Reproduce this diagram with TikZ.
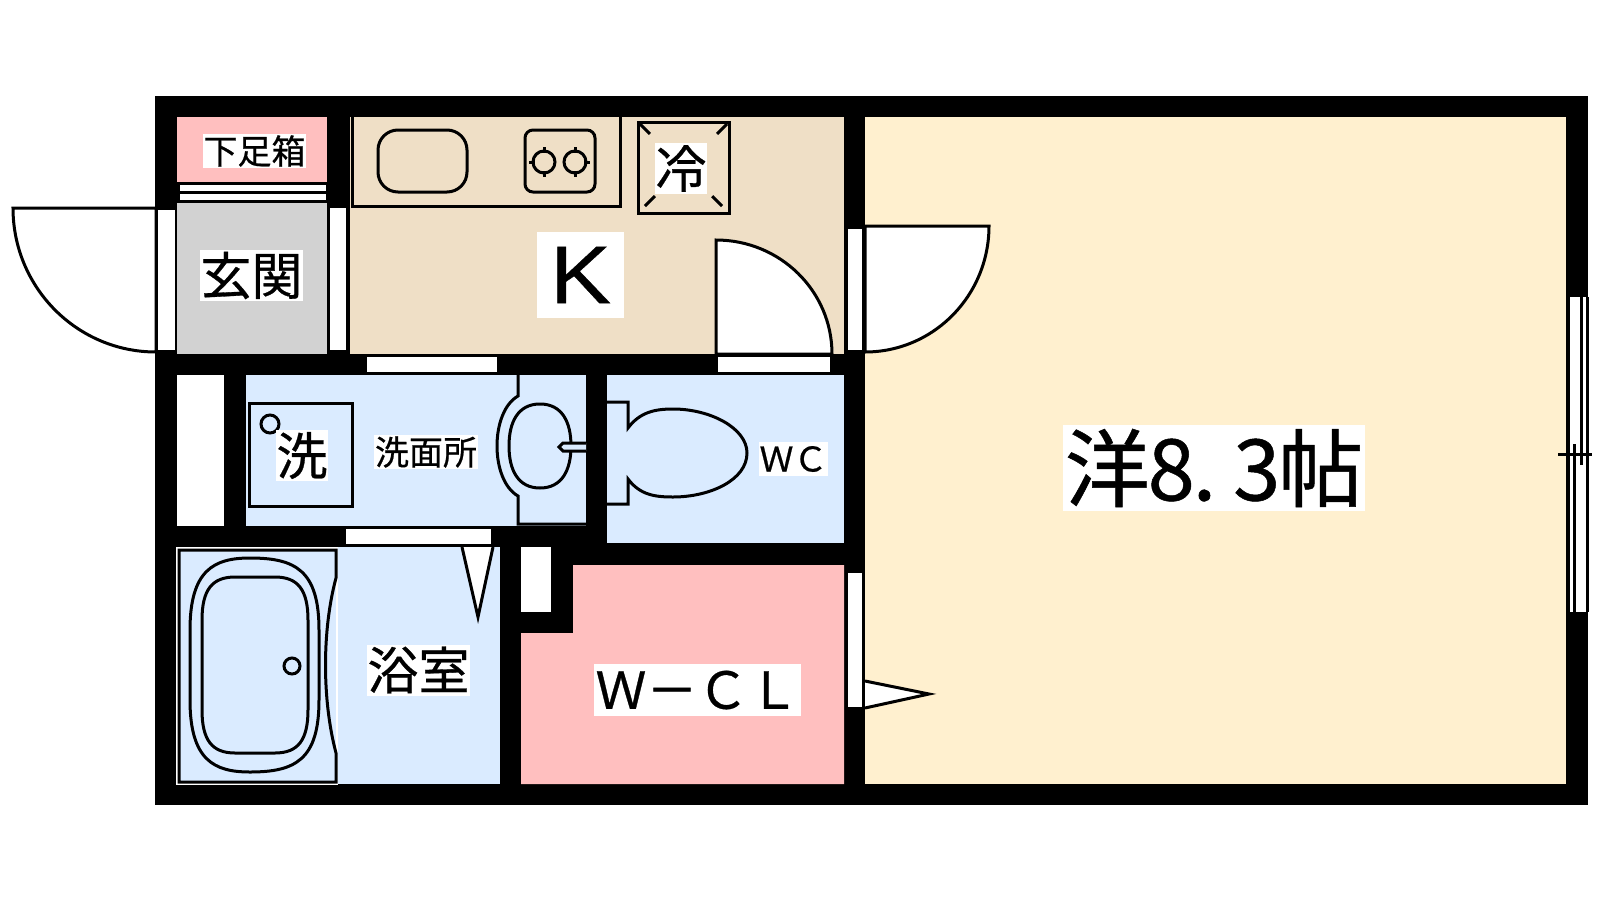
\documentclass[tikz,border=0pt]{standalone}
\usepackage{fontspec}
\newfontfamily\cjk[FakeBold=0.6]{Noto Sans CJK JP}
\newfontfamily\wideface[FakeStretch=1.12,FakeBold=0.4]{Liberation Sans}
\definecolor{shoebox}{HTML}{FFBFBF}
\definecolor{entry}{HTML}{D2D2D2}
\definecolor{kitchen}{HTML}{EFDFC6}
\definecolor{western}{HTML}{FFF0CF}
\definecolor{wet}{HTML}{DAEBFF}
\newcommand{\halfcell}[1]{\makebox[21.4pt]{#1}}
\begin{document}
\begin{tikzpicture}[x=0.5pt,y=-0.5pt,
    wall/.style ={fill=black},
    opening/.style ={draw=black, fill=white, line width=1pt},
    fixture/.style ={draw=black, line width=1.5pt},
    leaf/.style ={draw=black, fill=white, line width=1.5pt},
    bigtext/.style ={fill=white, inner sep=0pt, font=\cjk\fontsize{25.5}{26}\selectfont},
    smalltext/.style ={fill=white, inner sep=0pt, font=\cjk\fontsize{17}{18}\selectfont}]
   \useasboundingbox (0,0) rectangle (1600,900);
   \fill[wall] (155,96) rectangle (1588,805);

   % rooms
   \fill[white] (177,375) rectangle (224,526);
   \fill[white] (521,547) rectangle (551,612);
   \fill[white] (180,185) rectangle (326,191);
   \fill[white] (180,194) rectangle (326,200);
   \fill[shoebox] (177,117) rectangle (327,182);
   \fill[entry] (177,203) rectangle (327,354);
   \fill[kitchen] (350,117) rectangle (844,354);
   \fill[western] (865,117) rectangle (1566,784);
   \fill[wet] (246,375) rectangle (586,526);
   \fill[wet] (607,375) rectangle (844,543);
   \fill[wet] (177,547) rectangle (500,784);
   \fill[shoebox] (573,565) -- (844,565) -- (844,784) -- (521,784) -- (521,633) -- (573,633) -- cycle;

   % kitchen
   \draw[fixture] (352,117) -- (352,206) -- (620,206) -- (620,117);
   \draw[fixture, rounded corners=10] (378,130) rectangle (467,192);
   \draw[fixture, rounded corners=4] (525,130) rectangle (595,192);
   \draw[fixture] (529,162) -- (559,162) (544,147) -- (544,177);
   \draw[fixture] (560,162) -- (590,162) (575,147) -- (575,177);
   \fill[kitchen] (535,153) rectangle (584,171);
   \draw[fixture] (544,162) circle (11);
   \draw[fixture] (575,162) circle (11);
   \draw[fixture] (638,122) rectangle (729,213);
   \draw[fixture, dash pattern=on 7 off 10] (640,124) -- (727,211);
   \draw[fixture, dash pattern=on 7 off 10] (727,124) -- (640,211);

   % doors and openings
   \draw[opening] (157,209) rectangle (176,351);
   \draw[opening] (329,207) rectangle (347,351);
   \draw[opening] (366,356) rectangle (498,373);
   \draw[opening] (717,356) rectangle (831,373);
   \draw[opening] (345,528) rectangle (492,545);
   \draw[opening] (847,228) rectangle (863,351);
   \draw[opening] (847,572) rectangle (863,708);
   \draw[leaf] (156,208) -- (13,208) arc[start angle=180, end angle=90, x radius=143, y radius=144] -- cycle;
   \draw[leaf] (716,354) -- (716,240) arc[start angle=-90, end angle=0, x radius=116, y radius=114] -- cycle;
   \draw[leaf] (865,226) -- (989,226) arc[start angle=0, end angle=90, x radius=124, y radius=126] -- cycle;
   \draw[leaf] (462,547) -- (478,617) -- (493,547);
   \draw[leaf] (865,681) -- (929,694) -- (865,708);

   % window
   \fill[white] (1567,297) rectangle (1588,612);
   \draw[fixture] (1568,297) -- (1568,612);
   \draw[fixture] (1587,297) -- (1587,612);
   \draw[fixture] (1581,297) -- (1581,465);
   \draw[fixture] (1574,444) -- (1574,612);
   \draw[fixture] (1558,454) -- (1592,454);

   % washroom
   \draw[fixture] (249,403) rectangle (352,506);
   \draw[fixture] (270,424) circle (9);
   \draw[fixture] (518,375) -- (518,396) .. controls (490,412) and (490,480) .. (518,496) -- (518,524) -- (586,524);
   \draw[fixture] (540,404) .. controls (518,404) and (509,422) .. (509,446) .. controls (509,470) and (518,488) .. (540,488) .. controls (562,488) and (571,470) .. (571,446) .. controls (571,422) and (562,404) .. (540,404);
   \draw[fixture, fill=wet] (586,443) -- (563,443) -- (559,447) -- (563,451) -- (586,451);

   % toilet
   \draw[fixture] (607,402) -- (628,402) -- (628,428) .. controls (640,412) and (655,409) .. (673,409) .. controls (710,409) and (747,428) .. (747,453) .. controls (747,480) and (710,497) .. (673,497) .. controls (655,497) and (640,495) .. (628,479) -- (628,504) -- (607,504);

   % bath
   \draw[white, line width=1pt] (177,547.5) rectangle (337,783.5);
   \draw[fixture] (179,550) -- (336,550) -- (336,578) .. controls (322,630) and (322,700) .. (336,753) -- (336,782) -- (179,782) -- cycle;
   \draw[fixture] (250,558) .. controls (295,558) and (319,570) .. (319,630) -- (319,700) .. controls (319,760) and (295,772) .. (250,772) .. controls (214,772) and (190,760) .. (190,700) -- (190,630) .. controls (190,570) and (214,558) .. (250,558) -- cycle;
   \draw[fixture] (235,577) -- (275,577) .. controls (298,577) and (308,590) .. (308,620) -- (308,710) .. controls (308,740) and (298,753) .. (275,753) -- (235,753) .. controls (212,753) and (202,740) .. (202,710) -- (202,620) .. controls (202,590) and (212,577) .. (235,577) -- cycle;
   \draw[fixture] (292,666) circle (8);

   % labels
   \node[smalltext, minimum width=51.5pt, minimum height=17pt] (shoes) at (254.5,151) {下足箱};
   \node[bigtext, minimum width=51.5pt, minimum height=25.5pt] (genkan) at (251.5,275.5) {玄関};
   \node[bigtext, minimum width=26pt, minimum height=25.5pt] (reizo) at (681,168.5) {冷};
   \node[fill=white, inner sep=0pt, minimum width=43.5pt, minimum height=43pt, font=\wideface\fontsize{41}{41}\selectfont] (kitchenlabel) at (580.5,275) {K};
   \node[bigtext, minimum width=26pt, minimum height=25.5pt] (washer) at (302,455.5) {洗};
   \node[smalltext, minimum width=52pt, minimum height=17pt] (senmen) at (426,452) {洗面所};
   \node[smalltext, minimum width=34.5pt, minimum height=17pt] (wc) at (793.5,459) {ＷＣ};
   \node[bigtext, minimum width=51.5pt, minimum height=25.5pt] (bathroom) at (418.5,670) {浴室};
   \node[bigtext, minimum width=103.5pt, minimum height=26pt] (closet) at (697.5,690) {Ｗ－ＣＬ};
   \node[fill=white, inner sep=0pt, minimum width=151pt, minimum height=43pt, font=\cjk\fontsize{42.5}{43}\selectfont] (westernroom) at (1214,468) {洋\halfcell{8}\makebox[21.4pt][l]{.}\halfcell{3}帖};
 \end{tikzpicture}
\end{document}
